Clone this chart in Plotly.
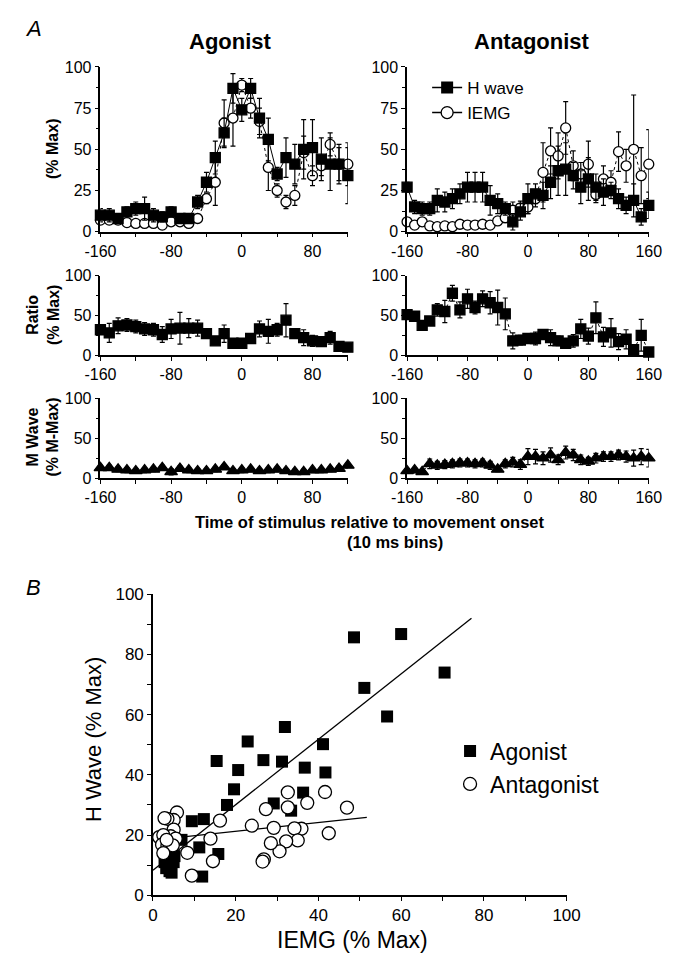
import plotly.graph_objects as go

FONT = "Liberation Sans, Arial, Helvetica, sans-serif"

# ---------------- data ----------------
ago_t = list(range(-160, 130, 10))   # 29 bins
ant_t = list(range(-160, 170, 10))   # 33 bins

ago_h = [10, 10, 8, 12, 14, 14, 10, 9, 12, 8, 8, 18, 30, 45, 60, 87, 74, 87, 69, 56,
         35, 45, 41, 50, 51, 44, 41, 41, 34]
ago_h_err = [4, 4, 3, 3, 4, 7, 4, 3, 3, 3, 3, 4, 6, 10, 9, 9, 7, 6, 12, 13,
             4, 12, 12, 18, 17, 13, 16, 12, 17]
ago_e = [7, 7, 7, 5.5, 5, 5, 5, 4, 6, 6, 5, 8, 20, 30, 66, 69, 89, 75, 67, 39,
         25, 18, 22, 48, 34, 40, 53, 41, 41]
ago_e_err = [1, 1, 1, 1.5, 2, 2, 1.5, 2, 1.5, 1.5, 1.5, 2, 3, 14, 14, 17, 4, 6, 8, 14,
             4, 4, 6, 10, 6, 6, 7, 10, 13]

ant_h = [27, 15, 14, 14, 19, 18, 20, 23, 27, 27, 27, 19, 17, 14, 6, 12, 20, 23, 22, 30,
         37, 38, 34, 27, 32, 27, 24, 25, 20, 16, 19, 9, 16]
ant_h_err = [3, 4, 4, 4, 7, 6, 6, 6, 9, 9, 9, 9, 6, 4, 5, 5, 9, 6, 8, 10,
             15, 16, 8, 10, 13, 8, 8, 5, 6, 5, 10, 5, 8]
ant_e = [6, 4, 6, 3.5, 3, 3.5, 3, 4.5, 4, 4, 4.5, 4, 6.5, 8.5, 13, 14.5, 15, 20, 36, 49,
         46, 63, 40, 35, 41, 22.6, 32, 30, 48.6, 40, 50, 34, 41]
ant_e_err = [1.5, 1.5, 2, 1.5, 1.5, 1.5, 1.5, 1.5, 1.5, 1.5, 1.5, 1.5, 2, 3, 5, 4, 4, 5, 18, 14,
             14, 16, 9, 7, 14, 5, 8, 7, 12, 10, 33, 17, 21]

ago_ratio = [32, 28, 37, 38, 36, 33, 32, 26, 33, 34, 34, 34, 27, 18, 27, 15, 15, 21, 33, 30,
             32, 44, 27, 22, 18, 17, 22, 11, 10]
ago_ratio_err = [6, 12, 10, 8, 8, 8, 8, 10, 12, 20, 12, 10, 6, 4, 11, 3, 3, 6, 10, 15,
                 8, 21, 6, 10, 7, 6, 8, 3, 3]
ant_ratio = [51, 49, 37.5, 43, 57, 55, 78, 57, 71, 60, 71, 66, 60, 52, 18, 19, 21, 21, 26, 22,
             18, 15, 18, 33, 24, 47, 23, 28, 17, 20, 7, 25, 4]
ant_ratio_err = [6, 4, 4, 4, 8, 14, 10, 10, 12, 8, 10, 14, 22, 20, 10, 6, 6, 8, 6, 10,
                 6, 6, 8, 12, 10, 20, 12, 18, 10, 12, 2, 20, 2]

ago_m = [13, 13, 11, 10, 9, 10, 11, 13, 8, 12, 10, 9, 9, 11, 14, 9, 10, 11, 9, 10,
         11, 9, 8, 8, 10, 10, 11, 12, 16]
ago_m_err = [3, 3, 3, 3, 3, 3, 3, 3, 4, 3, 3, 3, 3, 3, 3, 3, 3, 3, 3, 3,
             3, 3, 3, 3, 3, 3, 3, 3, 3]
ant_m = [9, 10, 8, 18, 16, 17, 18, 19, 19, 18, 19, 16, 11, 18, 20, 17, 27, 27, 25, 29,
         23, 32, 29, 23, 21, 25, 27, 27, 29, 27, 25, 27, 25]
ant_m_err = [3, 3, 3, 6, 5, 5, 5, 5, 5, 5, 5, 5, 3, 5, 6, 6, 10, 9, 8, 9,
             6, 8, 7, 6, 5, 6, 6, 6, 6, 7, 10, 10, 11]

# scatter (panel B)
ago_iemg = [48.6, 60, 51.1, 56.6, 70.5, 31.9, 22.9, 15.4, 20.6, 26.7, 31.2, 36.7, 41.1, 41.7,
            19.6, 36.3, 17.9, 29.2, 33.4, 9.4, 12.3, 6.9, 11.2, 15.8, 11.9,
            3.5, 4.2, 4.0, 5.0, 3.2, 4.5, 2.8, 5.2]
ago_hw = [85.7, 86.8, 68.9, 59.4, 74, 55.9, 51.1, 44.6, 41.6, 44.9, 44.4, 42.4, 50.2, 40.8,
          35.2, 34.1, 30, 30.5, 28.1, 24.6, 25.3, 18.4, 15.9, 13.7, 6.2,
          10, 12, 8, 11, 9, 7.5, 11, 13]
ant_iemg = [46.9, 42.5, 41.6, 37.3, 32.6, 32.6, 35.9, 34.2, 35, 32.2, 30.6, 29.2, 28.5, 27.3,
            26.8, 26.5, 23.9, 16.2, 13.9, 14.5, 8.3, 9.4, 5.8, 5, 3.5, 2.8, 5, 4.3, 5.5,
            1.5, 2.5, 2.2, 3.5, 4.8, 2.5, 3.3]
ant_hw = [29.1, 20.6, 34.3, 30.7, 34.2, 29.2, 22.1, 22.2, 18.2, 17.9, 14.6, 22.4, 17.3, 28.6,
          11.9, 11.2, 23.1, 24.8, 18.8, 11.3, 14.1, 6.5, 27.5, 25, 25.4, 25.6, 21.8, 19.6, 18.8,
          19.3, 20, 16.8, 16.5, 16.6, 14, 18.4]

# regression lines: [intercept, slope], x-extent
ago_fit = [8.3, 1.088]
ago_fit_x = [0, 77]
ant_fit = [18.3, 0.147]
ant_fit_x = [0, 51.7]

time_ticks = [-160, -120, -80, -40, 0, 40, 80, 120, 160]
time_ticktext = ["-160", "", "-80", "", "0", "", "80", "", "160"]
top_yticks = [0, 25, 50, 75, 100]
low_yticks = [0, 50, 100]
sc_ticks = [0, 20, 40, 60, 80, 100]

# ---------------- figure ----------------
# the page body keeps its default 8px margin, so the figure is sized to fit inside
# the 687x974 window and all page positions are measured from the window corner.
WIN_W, WIN_H = 687, 974
OFF = 8
W, H = WIN_W - 2 * OFF, WIN_H - 2 * OFF
fig = go.Figure()


def px_x(p):
    return (p - OFF) / W


def px_y(p):
    return 1 - (p - OFF) / H


def add_series(x, y, err, xa, ya, symbol, fill, size, line_dash=None, err_w=1.2):
    fig.add_trace(go.Scatter(
        x=x, y=y, xaxis=xa, yaxis=ya, mode="lines+markers", showlegend=False,
        line=dict(color="black", width=1, dash=line_dash),
        marker=dict(symbol=symbol, size=size, color=fill,
                    line=dict(color="black", width=1.3)),
        error_y=dict(type="data", array=err, visible=True, color="black",
                     thickness=err_w, width=2.5),
        cliponaxis=False,
    ))


# top panels
add_series(ago_t, ago_e, ago_e_err, "x", "y", "circle", "white", 10, "dot")
add_series(ago_t, ago_h, ago_h_err, "x", "y", "square", "black", 10)
add_series(ant_t, ant_e, ant_e_err, "x2", "y2", "circle", "white", 10, "dot")
add_series(ant_t, ant_h, ant_h_err, "x2", "y2", "square", "black", 10)
# legend entries for top panels
fig.add_trace(go.Scatter(x=[None], y=[None], xaxis="x2", yaxis="y2", mode="lines+markers",
                         name="H wave", legend="legend",
                         line=dict(color="black", width=1.5),
                         marker=dict(symbol="square", size=12, color="black")))
fig.add_trace(go.Scatter(x=[None], y=[None], xaxis="x2", yaxis="y2", mode="lines+markers",
                         name="IEMG", legend="legend",
                         line=dict(color="black", width=1.5),
                         marker=dict(symbol="circle", size=12, color="white",
                                     line=dict(color="black", width=1.3))))
# ratio panels
add_series(ago_t, ago_ratio, ago_ratio_err, "x3", "y3", "square", "black", 10, "dot")
add_series(ant_t, ant_ratio, ant_ratio_err, "x4", "y4", "square", "black", 10, "dot")
# M wave panels
add_series(ago_t, ago_m, ago_m_err, "x5", "y5", "triangle-up", "black", 11, "dot")
add_series(ant_t, ant_m, ant_m_err, "x6", "y6", "triangle-up", "black", 11, "dot")

# scatter panel
for fit, fx in ((ago_fit, ago_fit_x), (ant_fit, ant_fit_x)):
    fig.add_trace(go.Scatter(x=fx, y=[fit[0] + fit[1] * v for v in fx], xaxis="x7", yaxis="y7",
                             mode="lines", showlegend=False,
                             line=dict(color="black", width=1.3)))
fig.add_trace(go.Scatter(x=ago_iemg, y=ago_hw, xaxis="x7", yaxis="y7", mode="markers",
                         name="Agonist", legend="legend2", cliponaxis=False,
                         marker=dict(symbol="square", size=12, color="black",
                                     line=dict(color="black", width=0))))
fig.add_trace(go.Scatter(x=ant_iemg, y=ant_hw, xaxis="x7", yaxis="y7", mode="markers",
                         name="Antagonist", legend="legend2", cliponaxis=False,
                         marker=dict(symbol="circle", size=13, color="white",
                                     line=dict(color="black", width=1.3))))

axis_common = dict(showline=True, linecolor="black", linewidth=1.5, ticks="outside",
                   ticklen=4, tickwidth=1.2, tickcolor="black", showgrid=False,
                   zeroline=False, fixedrange=True,
                   tickfont=dict(family=FONT, size=16, color="black"))

ago_dom = [px_x(88), px_x(347)]
ant_dom = [px_x(409), px_x(662)]
top_dom = [px_y(227), px_y(59)]
rat_dom = [px_y(353), px_y(272)]
m_dom = [px_y(478.5), px_y(397)]


def xax(dom, rng, anchor):
    return dict(axis_common, domain=dom, range=rng, anchor=anchor,
                tickvals=time_ticks, ticktext=time_ticktext)


def yax(dom, anchor, ticks, minor):
    return dict(axis_common, domain=dom, range=[0, 100], anchor=anchor,
                tickvals=ticks, ticktext=[str(t) for t in ticks],
                minor=dict(ticks="outside", ticklen=3, dtick=minor, tickcolor="black"))


fig.update_layout(
    width=W, height=H, margin=dict(l=0, r=0, t=0, b=0),
    paper_bgcolor="white", plot_bgcolor="white",
    font=dict(family=FONT, color="black"),
    xaxis=xax(ago_dom, [-160, 120], "y"),
    yaxis=yax(top_dom, "x", top_yticks, 12.5),
    xaxis2=xax(ant_dom, [-160, 160], "y2"),
    yaxis2=yax(top_dom, "x2", top_yticks, 12.5),
    xaxis3=xax(ago_dom, [-160, 120], "y3"),
    yaxis3=yax(rat_dom, "x3", low_yticks, 25),
    xaxis4=xax(ant_dom, [-160, 160], "y4"),
    yaxis4=yax(rat_dom, "x4", low_yticks, 25),
    xaxis5=xax(ago_dom, [-160, 120], "y5"),
    yaxis5=yax(m_dom, "x5", low_yticks, 25),
    xaxis6=xax(ant_dom, [-160, 160], "y6"),
    yaxis6=yax(m_dom, "x6", low_yticks, 25),
    xaxis7=dict(axis_common, domain=[px_x(143), px_x(576)], range=[0, 100], anchor="y7",
                tickvals=sc_ticks, ticktext=[str(t) for t in sc_ticks],
                minor=dict(ticks="outside", ticklen=4, dtick=10, tickcolor="black"),
                tickfont=dict(family=FONT, size=17, color="black")),
    yaxis7=dict(axis_common, domain=[px_y(904), px_y(597)], range=[0, 100], anchor="x7",
                tickvals=sc_ticks, ticktext=[str(t) for t in sc_ticks],
                minor=dict(ticks="outside", ticklen=4, dtick=10, tickcolor="black"),
                tickfont=dict(family=FONT, size=17, color="black")),
    legend=dict(x=px_x(430), y=px_y(62), xanchor="left", yanchor="top",
                bgcolor="rgba(0,0,0,0)", font=dict(family=FONT, size=17, color="black"),
                tracegroupgap=0, itemsizing="trace"),
    legend2=dict(x=px_x(454), y=px_y(735), xanchor="left", yanchor="top",
                 bgcolor="rgba(0,0,0,0)", font=dict(family=FONT, size=23, color="black"),
                 tracegroupgap=0, itemsizing="trace"),
)

ann = []


def add_text(text, x, y, size, angle=0, xanchor="center"):
    ann.append(dict(text=text, x=px_x(x), y=px_y(y), xref="paper", yref="paper",
                    showarrow=False, textangle=angle, xanchor=xanchor, yanchor="middle",
                    font=dict(family=FONT, size=size, color="black")))


add_text("<i>A</i>", 18, 20, 22)
add_text("<i>B</i>", 18, 590, 22)
add_text("<b>Agonist</b>", 224, 33, 22)
add_text("<b>Antagonist</b>", 540, 33, 22)
add_text("<b>(% Max)</b>", 38, 143, 16, -90)
add_text("<b>Ratio</b><br><b>(% Max)</b>", 28, 312, 16, -90)
add_text("<b>M Wave</b><br><b>(% M-Max)</b>", 28, 437, 16, -90)
add_text("<b>Time of stimulus relative to movement onset</b>", 370, 523, 16.5)
add_text("<b>(10 ms bins)</b>", 396, 544, 16.5)
add_text("IEMG (% Max)", 352, 950, 23)
add_text("H Wave (% Max)", 81, 745, 22, -90)
fig.update_layout(annotations=ann)

fig.write_html("out.html")
